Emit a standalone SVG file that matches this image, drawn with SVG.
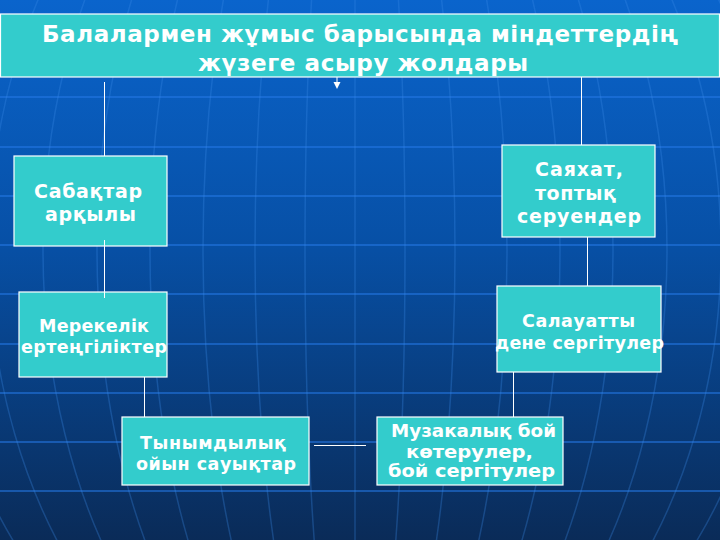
<svg xmlns="http://www.w3.org/2000/svg" width="720" height="540" viewBox="0 0 720 540">
  <defs>
    <linearGradient id="bg" x1="0" y1="0" x2="0" y2="1">
      <stop offset="0" stop-color="#0a64cc"/>
      <stop offset="0.45" stop-color="#0750a6"/>
      <stop offset="1" stop-color="#0a2b58"/>
    </linearGradient>
    <style>
      .grid-h { stroke: #2479e6; stroke-width: 2; opacity: 0.55; fill: none; }
      .grid-v { stroke: #3b8be8; stroke-width: 1.5; opacity: 0.3; fill: none; }
      .box { fill: #33cccc; stroke: #ffffff; stroke-width: 1.2; }
      .t { fill: #ffffff; font-family: "DejaVu Sans", Verdana, sans-serif; font-weight: bold; text-anchor: start; }
      .conn { stroke: #ffffff; stroke-width: 1; fill: none; }
    </style>
  </defs>

  <rect x="0" y="0" width="720" height="540" fill="url(#bg)"/>
  <g id="background-grid">
    <line class="grid-h" x1="0" y1="97" x2="720" y2="97"/>
    <line class="grid-h" x1="0" y1="147" x2="720" y2="147"/>
    <line class="grid-h" x1="0" y1="196" x2="720" y2="196"/>
    <line class="grid-h" x1="0" y1="245" x2="720" y2="245"/>
    <line class="grid-h" x1="0" y1="294" x2="720" y2="294"/>
    <line class="grid-h" x1="0" y1="344" x2="720" y2="344"/>
    <line class="grid-h" x1="0" y1="393" x2="720" y2="393"/>
    <line class="grid-h" x1="0" y1="442" x2="720" y2="442" opacity="0.4"/>
    <line class="grid-h" x1="0" y1="491" x2="720" y2="491" opacity="0.3"/>
    <line class="grid-v" x1="355" y1="0" x2="355" y2="540"/>
    <ellipse class="grid-v" cx="355" cy="250" rx="50" ry="500"/>
    <ellipse class="grid-v" cx="355" cy="250" rx="100" ry="500"/>
    <ellipse class="grid-v" cx="355" cy="250" rx="152" ry="500"/>
    <ellipse class="grid-v" cx="355" cy="250" rx="205" ry="500"/>
    <ellipse class="grid-v" cx="355" cy="250" rx="258" ry="500"/>
    <ellipse class="grid-v" cx="355" cy="250" rx="312" ry="500"/>
    <ellipse class="grid-v" cx="355" cy="250" rx="366" ry="500"/>
    <ellipse class="grid-v" cx="355" cy="250" rx="420" ry="500"/>
  </g>

  <g id="title">
    <rect class="box" x="0.5" y="14" width="719" height="63"/>
    <text class="t" x="42" y="42" font-size="23" textLength="636" lengthAdjust="spacing">Балалармен жұмыс барысында міндеттердің</text>
    <text class="t" x="198" y="71" font-size="23" textLength="330" lengthAdjust="spacing">жүзеге асыру жолдары</text>
  </g>

  <g id="node-sabaktar">
    <rect class="box" x="14" y="156" width="153" height="90"/>
    <text class="t" x="34" y="198" font-size="19" textLength="108" lengthAdjust="spacing">Сабақтар</text>
    <text class="t" x="45" y="221" font-size="19" textLength="91" lengthAdjust="spacing">арқылы</text>
  </g>

  <g id="node-merekelik">
    <rect class="box" x="19" y="292" width="148" height="85"/>
    <text class="t" x="39" y="332" font-size="17.5" textLength="110" lengthAdjust="spacing">Мерекелік</text>
    <text class="t" x="21" y="353" font-size="17.5" textLength="146" lengthAdjust="spacing">ертеңгіліктер</text>
  </g>

  <g id="node-tynymdylyk">
    <rect class="box" x="122" y="417" width="187" height="68"/>
    <text class="t" x="140" y="449" font-size="17.5" textLength="146" lengthAdjust="spacing">Тынымдылық</text>
    <text class="t" x="136" y="470" font-size="17.5" textLength="160" lengthAdjust="spacing">ойын сауықтар</text>
  </g>

  <g id="node-muzykalyk">
    <rect class="box" x="377" y="417" width="186" height="68"/>
    <text class="t" x="391" y="437" font-size="18" textLength="165" lengthAdjust="spacingAndGlyphs">Музакалық бой</text>
    <text class="t" x="406" y="458" font-size="18" textLength="127" lengthAdjust="spacingAndGlyphs">көтерулер,</text>
    <text class="t" x="388" y="477" font-size="18" textLength="167" lengthAdjust="spacingAndGlyphs">бой сергітулер</text>
  </g>

  <g id="node-salauatty">
    <rect class="box" x="497" y="286" width="164" height="86"/>
    <text class="t" x="522" y="327" font-size="17.5" textLength="113" lengthAdjust="spacing">Салауатты</text>
    <text class="t" x="495" y="349" font-size="17.5" textLength="169" lengthAdjust="spacing">дене сергітулер</text>
  </g>

  <g id="node-sayahat">
    <rect class="box" x="502" y="145" width="153" height="92"/>
    <text class="t" x="535" y="176" font-size="19" textLength="88" lengthAdjust="spacing">Саяхат,</text>
    <text class="t" x="535" y="200" font-size="19" textLength="81" lengthAdjust="spacing">топтық</text>
    <text class="t" x="517" y="223" font-size="19" textLength="124" lengthAdjust="spacing">серуендер</text>
  </g>

  <g id="connectors">
    <line class="conn" x1="337" y1="77" x2="337" y2="82"/>
    <polygon points="333.5,82 340.5,82 337,89" fill="#ffffff"/>
    <line class="conn" x1="104.5" y1="82" x2="104.5" y2="156"/>
    <line class="conn" x1="581.5" y1="77" x2="581.5" y2="145"/>
    <line class="conn" x1="104.5" y1="240" x2="104.5" y2="298"/>
    <line class="conn" x1="144.5" y1="377" x2="144.5" y2="417"/>
    <line class="conn" x1="314" y1="445.5" x2="366" y2="445.5"/>
    <line class="conn" x1="513.5" y1="372" x2="513.5" y2="417"/>
    <line class="conn" x1="587.5" y1="237" x2="587.5" y2="286"/>
  </g>
</svg>
